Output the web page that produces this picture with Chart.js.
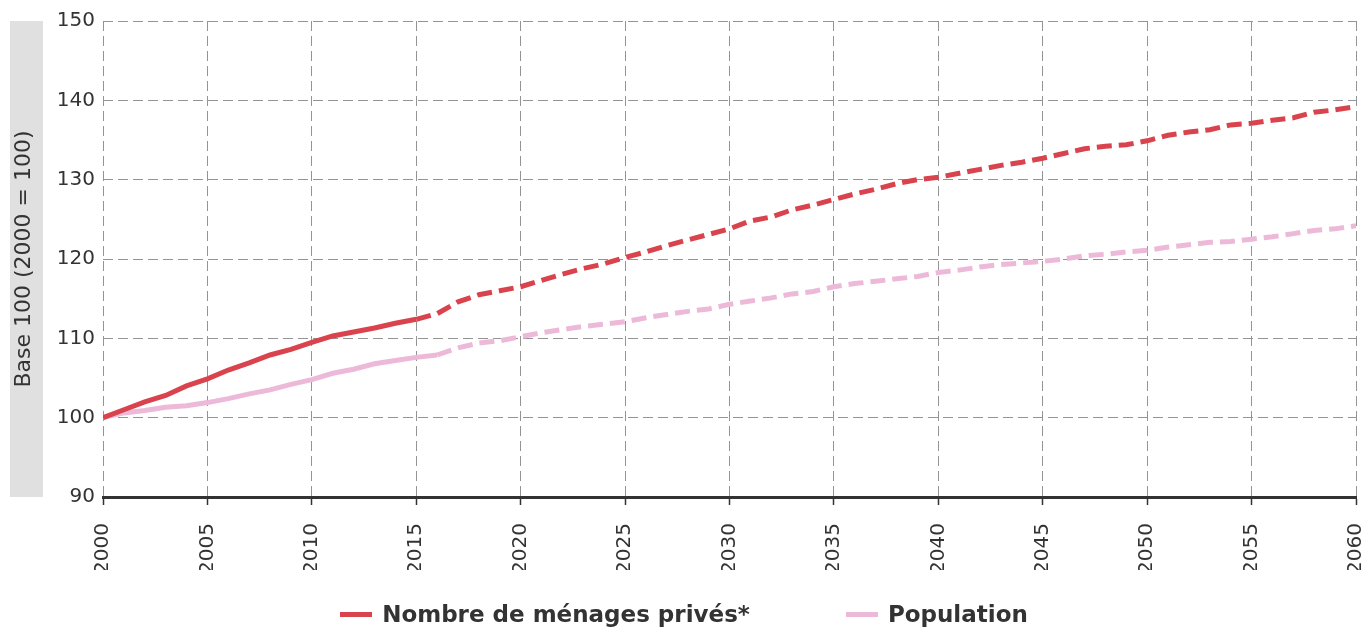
<!DOCTYPE html>
<html lang="fr">
<head>
<meta charset="utf-8">
<title>Ménages privés et population</title>
<script src="https://cdn.jsdelivr.net/npm/chart.js@4.4.1/dist/chart.umd.min.js"></script>
<style>
    html, body { margin: 0; padding: 0; background: #fff; }
    .wrap { position: relative; width: 1368px; height: 630px; }
    #chart { display: block; }
    .legend {
        position: absolute; left: 0; top: 600px; width: 1368px; height: 28px;
        display: flex; justify-content: center; align-items: center; gap: 96px;
        font: bold 23px "DejaVu Sans", sans-serif; color: #333; line-height: 28px;
    }
    .legend-item { display: flex; align-items: center; }
    .legend-swatch { display: inline-block; width: 32px; height: 5px; margin-right: 10px; }
</style>
</head>
<body>
<div class="wrap">
    <canvas id="chart" width="1368" height="630"></canvas>
    <div class="legend" id="legend"></div>
</div>
<script>
// Data (base 100 = 2000)
const years = [
    2000, 2001, 2002, 2003, 2004, 2005, 2006, 2007, 2008, 2009,
    2010, 2011, 2012, 2013, 2014, 2015, 2016, 2017, 2018, 2019,
    2020, 2021, 2022, 2023, 2024, 2025, 2026, 2027, 2028, 2029,
    2030, 2031, 2032, 2033, 2034, 2035, 2036, 2037, 2038, 2039,
    2040, 2041, 2042, 2043, 2044, 2045, 2046, 2047, 2048, 2049,
    2050, 2051, 2052, 2053, 2054, 2055, 2056, 2057, 2058, 2059,
    2060
];

const menages = [
    100.0, 101.0, 102.0, 102.8, 104.0, 104.9, 106.0, 106.9, 107.9, 108.6,
    109.5, 110.3, 110.8, 111.3, 111.9, 112.4, 113.1, 114.6, 115.5, 116.0,
    116.5, 117.3, 118.1, 118.8, 119.4, 120.2, 120.9, 121.7, 122.4, 123.1,
    123.8, 124.8, 125.3, 126.2, 126.8, 127.5, 128.2, 128.8, 129.5, 130.0,
    130.3, 130.8, 131.3, 131.8, 132.2, 132.7, 133.3, 133.9, 134.2, 134.4,
    134.9, 135.6, 136.0, 136.3, 136.9, 137.1, 137.5, 137.8, 138.5, 138.8,
    139.2
];

const population = [
    100.0, 100.6, 100.9, 101.3, 101.5, 101.9, 102.4, 103.0, 103.5, 104.2,
    104.8, 105.6, 106.1, 106.8, 107.2, 107.6, 107.9, 108.8, 109.4, 109.7,
    110.2, 110.7, 111.1, 111.5, 111.8, 112.1, 112.6, 113.0, 113.4, 113.7,
    114.3, 114.7, 115.1, 115.6, 115.9, 116.5, 116.9, 117.2, 117.5, 117.8,
    118.3, 118.6, 119.0, 119.3, 119.5, 119.7, 120.0, 120.4, 120.6, 120.9,
    121.1, 121.5, 121.8, 122.1, 122.2, 122.5, 122.8, 123.2, 123.6, 123.8,
    124.2
];

// last observed index per series (dashed afterwards = scenario)
const lastObsMenages = 15;     // 2015
const lastObsPopulation = 16;  // 2016

const seriesLabels = ['Nombre de ménages privés*', 'Population'];
const yTitle = 'Base 100 (2000 = 100)';

const RED = '#d9434d';
const PINK = '#edb9d8';
const GRID = '#949494';
const TEXT = '#333333';

const toPoints = values => values.map((v, i) => ({ x: years[i], y: v }));
const dashAfter = idx => ctx => ctx.p0DataIndex >= idx ? [15, 7] : undefined;

// grey band behind the y axis title
const titleBand = {
    id: 'titleBand',
    beforeDraw(chart) {
        const { ctx, chartArea, scales } = chart;
        ctx.save();
        ctx.fillStyle = '#e0e0e0';
        ctx.fillRect(scales.y.left, chartArea.top, 33, chartArea.bottom - chartArea.top);
        ctx.restore();
    }
};

const chart = new Chart(document.getElementById('chart'), {
    type: 'line',
    data: {
        datasets: [
            {
                label: seriesLabels[0],
                data: toPoints(menages),
                borderColor: RED,
                backgroundColor: RED,
                borderWidth: 5,
                pointRadius: 0,
                tension: 0,
                segment: { borderDash: dashAfter(lastObsMenages) }
            },
            {
                label: seriesLabels[1],
                data: toPoints(population),
                borderColor: PINK,
                backgroundColor: PINK,
                borderWidth: 5,
                pointRadius: 0,
                tension: 0,
                segment: { borderDash: dashAfter(lastObsPopulation) }
            }
        ]
    },
    options: {
        responsive: false,
        animation: false,
        layout: { padding: { left: 10, top: 21, right: 12, bottom: 60 } },
        plugins: {
            legend: { display: false },
            tooltip: { enabled: false }
        },
        scales: {
            x: {
                type: 'linear',
                min: 2000,
                max: 2060,
                afterFit: scale => {
                    scale.height = 73;
                    scale.paddingLeft = 0;
                    scale.paddingRight = 0;
                },
                ticks: {
                    stepSize: 5,
                    minRotation: 90,
                    maxRotation: 90,
                    padding: 18,
                    color: TEXT,
                    font: { family: 'DejaVu Sans', size: 20 },
                    callback: v => String(v)
                },
                grid: {
                    color: GRID,
                    lineWidth: 1,
                    tickLength: 8,
                    tickColor: TEXT,
                    tickWidth: 1.5
                },
                border: { display: true, color: TEXT, width: 3, dash: [10, 5] }
            },
            y: {
                min: 90,
                max: 150,
                afterFit: scale => { scale.width = 93; },
                ticks: {
                    stepSize: 10,
                    padding: 8,
                    color: TEXT,
                    font: { family: 'DejaVu Sans', size: 20 },
                    callback: v => String(v)
                },
                grid: { color: GRID, lineWidth: 1, drawTicks: false },
                border: { display: false, dash: [10, 5] },
                title: {
                    display: true,
                    text: yTitle,
                    color: TEXT,
                    padding: { top: 1, bottom: 0 },
                    font: { family: 'DejaVu Sans', size: 22 }
                }
            }
        }
    },
    plugins: [titleBand]
});

// HTML legend
document.getElementById('legend').innerHTML = chart.data.datasets.map(ds => `
    <span class="legend-item">
        <span class="legend-swatch" style="background:${ds.borderColor}"></span>${ds.label}
    </span>
`).join('');
</script>
</body>
</html>
